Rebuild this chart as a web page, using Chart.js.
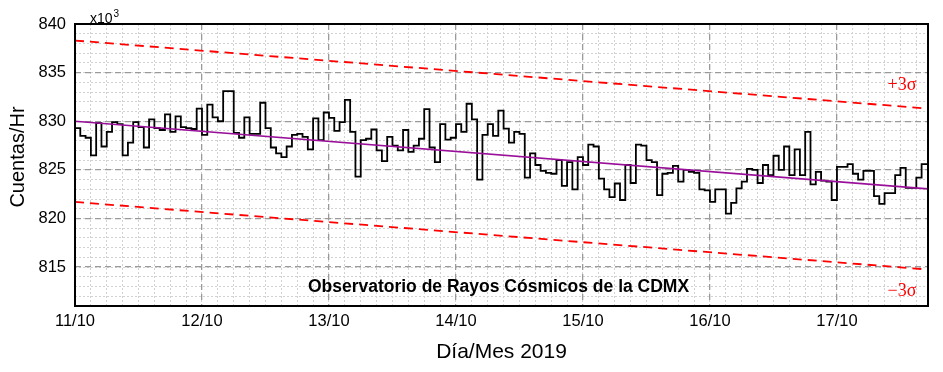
<!DOCTYPE html>
<html>
<head>
<meta charset="utf-8">
<title>Observatorio de Rayos Cósmicos de la CDMX</title>
<script src="https://cdn.jsdelivr.net/npm/chart.js@4.4.1/dist/chart.umd.min.js"></script>
<style>
  html, body { margin: 0; padding: 0; background: #fff; }
</style>
</head>
<body>
<canvas id="rayosChart" width="943" height="372"></canvas>
<script>
// Cuentas por hora (x10^3), una por hora desde el 11/10 a las 00h
const cuentas = [
  829.3, 828.5, 828.3, 826.5, 829.8, 827.4, 828.9, 829.9, 829.7, 826.5,
  827.8, 829.9, 829.4, 827.3, 830.2, 829.3, 829.1, 830.7, 828.9, 830.5,
  829.4, 829.3, 829.2, 831.3, 828.6, 831.7, 830.4, 830.0, 833.1, 833.1,
  828.8, 828.3, 830.4, 828.7, 828.7, 831.9, 829.3, 827.3, 826.7, 826.3,
  827.4, 828.6, 828.7, 828.4, 827.1, 830.3, 828.05, 830.9, 830.35, 829.0,
  829.9, 832.2, 828.9, 824.3, 828.05, 828.2, 829.15, 827.0, 825.9, 828.4,
  827.5, 827.0, 829.1, 826.85, 827.5, 828.2, 831.25, 827.3, 825.8, 829.7,
  828.1, 828.3, 829.7, 828.9, 831.8, 830.2, 824.0, 828.6, 829.7, 828.5,
  831.1, 829.25, 827.8, 828.9, 828.7, 824.2, 826.7, 825.5, 824.9, 824.7,
  824.6, 826.0, 823.35, 825.8, 823.0, 826.3, 825.5, 827.6, 827.4, 824.1,
  823.0, 822.2, 823.6, 821.9, 825.5, 823.65, 827.6, 827.5, 826.0, 825.8,
  822.4, 824.6, 824.7, 825.4, 823.8, 825.0, 824.8, 824.7, 823.0, 822.9,
  821.7, 823.0, 823.0, 820.5, 821.6, 823.1, 823.8, 825.1, 825.0, 823.65,
  825.5, 824.45, 826.45, 825.0, 827.4, 824.45, 827.1, 824.45, 828.9, 823.5,
  824.8, 823.9, 823.8, 821.9, 825.3, 825.3, 825.6, 824.6, 824.0, 824.9,
  824.9, 822.3, 821.5, 822.6, 822.6, 824.45, 825.2, 823.15, 823.15, 824.2,
  825.6, 825.6
];

// Recta de tendencia y bandas de +/-3 sigma (inicio, fin)
const tendencia = [830.0, 823.05];
const sigmaSup = [838.3, 831.3];
const sigmaInf = [821.7, 814.75];

// Ejes
const diasTicks = [0, 1, 2, 3, 4, 5, 6];
const diasEtiquetas = ['11/10', '12/10', '13/10', '14/10', '15/10', '16/10', '17/10'];
const yTicks = [815, 820, 825, 830, 835, 840];
const xMax = 6.717;   // dias desde 11/10
const yMin = 811;
const yMax = 840;

const horas = 24;

// serie escalonada: cada hora mantiene su valor hasta la siguiente
const serie = cuentas.map((v, k) => ({ x: k / horas, y: v }));
serie.push({ x: cuentas.length / horas, y: cuentas[cuentas.length - 1] });

const recta = (vals) => [{ x: 0, y: vals[0] }, { x: xMax, y: vals[1] }];

const FUENTE = 'Liberation Sans, Arial, sans-serif';
const SERIF = 'Liberation Serif, Times New Roman, serif';

// textos internos, titulo del eje Y y marco del area de grafico
const textosPlugin = {
  id: 'textos',
  afterDraw(chart) {
    const { ctx, chartArea: a } = chart;
    ctx.save();

    ctx.strokeStyle = '#000';
    ctx.lineWidth = 2;
    ctx.strokeRect(a.left, a.top, a.right - a.left, a.bottom - a.top);

    ctx.fillStyle = '#000';
    ctx.textBaseline = 'alphabetic';
    ctx.textAlign = 'left';
    ctx.font = '14px ' + FUENTE;
    ctx.fillText('x10', a.left + 15, a.top - 1);
    const w = ctx.measureText('x10').width;
    ctx.font = '10px ' + FUENTE;
    ctx.fillText('3', a.left + 15 + w + 1, a.top - 7);

    // titulo del eje Y
    ctx.save();
    ctx.translate(18, 157);
    ctx.rotate(-Math.PI / 2);
    ctx.textAlign = 'center';
    ctx.textBaseline = 'middle';
    ctx.font = '20px ' + FUENTE;
    ctx.fillText('Cuentas/Hr', 0, 0);
    ctx.restore();

    ctx.font = 'bold 17.5px ' + FUENTE;
    ctx.textAlign = 'center';
    ctx.fillText('Observatorio de Rayos Cósmicos de la CDMX', (a.left + a.right) / 2 - 3, a.bottom - 14);

    ctx.fillStyle = '#ff0000';
    ctx.font = '18px ' + SERIF;
    ctx.fillText('+3σ', a.right - 26, 90);
    ctx.fillText('\u22123σ', a.right - 26, 296);

    ctx.restore();
  }
};

const ctx = document.getElementById('rayosChart').getContext('2d');

new Chart(ctx, {
  type: 'line',
  data: {
    datasets: [
      {
        label: 'Tendencia',
        data: recta(tendencia),
        borderColor: '#990f99',
        borderWidth: 1.7,
        pointRadius: 0,
        fill: false
      },
      {
        label: '+3σ',
        data: recta(sigmaSup),
        borderColor: '#ff0000',
        borderWidth: 1.8,
        borderDash: [9, 6],
        pointRadius: 0,
        fill: false
      },
      {
        label: '-3σ',
        data: recta(sigmaInf),
        borderColor: '#ff0000',
        borderWidth: 1.8,
        borderDash: [9, 6],
        pointRadius: 0,
        fill: false
      },
      {
        label: 'Cuentas/Hr',
        data: serie,
        borderColor: '#000',
        borderWidth: 1.8,
        stepped: 'before',
        pointRadius: 0,
        tension: 0,
        fill: false
      }
    ]
  },
  options: {
    responsive: false,
    animation: false,
    events: [],
    layout: { padding: { left: 0, right: 15, top: 24, bottom: 0 } },
    plugins: {
      legend: { display: false },
      tooltip: { enabled: false }
    },
    scales: {
      // rejilla menor punteada (cada 3 horas y cada unidad)
      xMenor: {
        type: 'linear',
        position: 'bottom',
        min: 0,
        max: xMax,
        afterFit: (s) => { s.height = 0; },
        afterBuildTicks: (s) => {
          const t = [];
          for (let v = 0; v <= xMax; v += 1 / 8) t.push({ value: v });
          s.ticks = t;
        },
        ticks: { display: false },
        grid: { color: '#d2d2d2', lineWidth: 1, drawTicks: false, z: -2 },
        border: { display: false, dash: [2, 2] }
      },
      yMenor: {
        type: 'linear',
        position: 'left',
        min: yMin,
        max: yMax,
        afterFit: (s) => { s.width = 0; },
        afterBuildTicks: (s) => {
          const t = [];
          for (let v = yMin; v <= yMax; v += 1) t.push({ value: v });
          s.ticks = t;
        },
        ticks: { display: false },
        grid: { color: '#d2d2d2', lineWidth: 1, drawTicks: false, z: -2 },
        border: { display: false, dash: [2, 2] }
      },
      x: {
        type: 'linear',
        position: 'bottom',
        min: 0,
        max: xMax,
        afterFit: (s) => { s.height = 66; },
        afterBuildTicks: (s) => { s.ticks = diasTicks.map(v => ({ value: v })); },
        ticks: {
          callback: (v) => { const i = diasTicks.indexOf(v); return i >= 0 ? diasEtiquetas[i] : ''; },
          font: { family: FUENTE, size: 16.5 },
          color: '#000',
          padding: 6,
          maxRotation: 0,
          autoSkip: false
        },
        grid: { color: '#9a9a9a', lineWidth: 1.3, drawTicks: false, z: -1 },
        border: { display: false, dash: [6, 4] },
        title: {
          display: true,
          text: 'Día/Mes 2019',
          font: { family: FUENTE, size: 21 },
          color: '#000',
          padding: { top: 0, bottom: 7 }
        }
      },
      y: {
        type: 'linear',
        position: 'left',
        min: yMin,
        max: yMax,
        afterFit: (s) => { s.width = 75; },
        afterBuildTicks: (s) => { s.ticks = yTicks.map(v => ({ value: v })); },
        ticks: {
          font: { family: FUENTE, size: 16.5 },
          color: '#000',
          padding: 9
        },
        grid: { color: '#9a9a9a', lineWidth: 1.3, drawTicks: false, z: -1 },
        border: { display: false, dash: [6, 4] }
      }
    }
  },
  plugins: [textosPlugin]
});
</script>
</body>
</html>
